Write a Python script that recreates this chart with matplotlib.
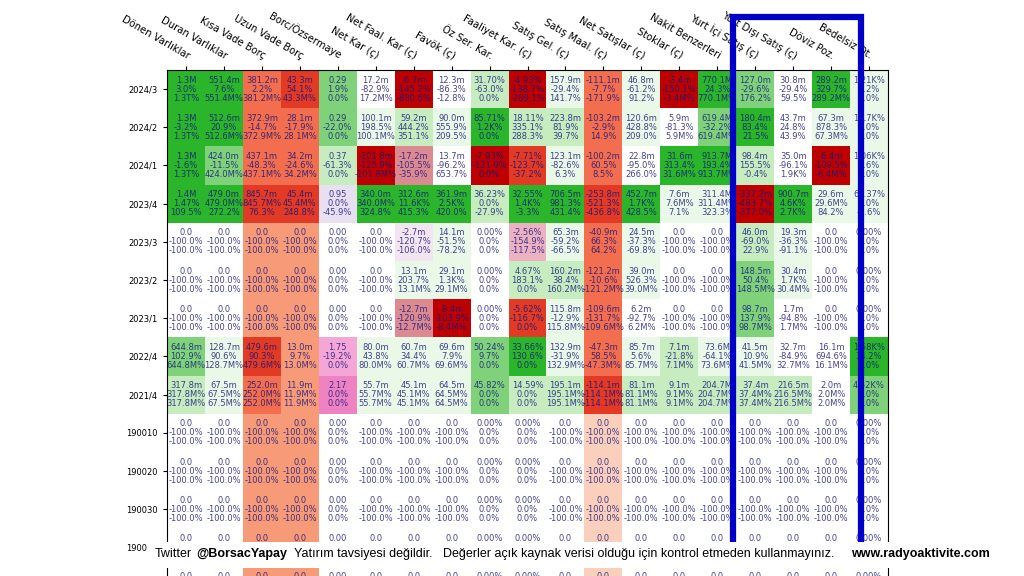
import numpy as np
import matplotlib.pyplot as plt
from matplotlib.colors import ListedColormap, BoundaryNorm
from matplotlib.patches import Rectangle

periods = ['2024/3', '2024/2', '2024/1', '2023/4', '2023/3', '2023/2', '2023/1',
           '2022/4', '2021/4', '190010', '190020', '190030', '190040', '190050']
metrics = ['Dönen Varlıklar', 'Duran Varlıklar', 'Kısa Vade Borç', 'Uzun Vade Borç',
           'Borc/Özsermaye', 'Net Kar (ç)', 'Net Faal. Kar (ç)', 'Favök (ç)', 'Öz Ser. Kar.',
           'Faaliyet Kar. (ç)', 'Satış Gel. (ç)', 'Satış Maal. (ç)', 'Net Satışlar (ç)',
           'Stoklar (ç)', 'Nakit Benzerleri', 'Yurt İçi Satış (ç)', 'Yurt Dışı Satış (ç)',
           'Döviz Poz.', 'Bedelsiz Ot.']

# value, change vs previous, change vs last year
zero_val = ['0.0', '0.0', '0.0', '0.0', '0.00', '0.0', '0.0', '0.0', '0.00%', '0.00%',
            '0.0', '0.0', '0.0', '0.0', '0.0', '0.0', '0.0', '0.0', '0.00%']
zero_chg = ['-100.0%', '-100.0%', '-100.0%', '-100.0%', '0.0%', '-100.0%', '-100.0%', '-100.0%',
            '0.0%', '0.0%', '-100.0%', '-100.0%', '-100.0%', '-100.0%', '-100.0%', '-100.0%',
            '-100.0%', '-100.0%', '0.0%']

values = [
    ['1.3M', '551.4m', '381.2m', '43.3m', '0.29', '17.2m', '-6.7m', '12.3m', '31.70%', '-4.93%',
     '157.9m', '-111.1m', '46.8m', '-3.4m', '770.1M', '127.0m', '30.8m', '289.2m', '1.21K%'],
    ['1.3M', '512.6m', '372.9m', '28.1m', '0.29', '100.1m', '59.2m', '90.0m', '85.71%', '18.11%',
     '223.8m', '-103.2m', '120.6m', '5.9m', '619.4M', '180.4m', '43.7m', '67.3m', '1.17K%'],
    ['1.3M', '424.0m', '437.1m', '34.2m', '0.37', '-101.8m', '-17.2m', '13.7m', '-7.93%', '-7.71%',
     '123.1m', '-100.2m', '22.8m', '31.6m', '913.7M', '98.4m', '35.0m', '-6.4m', '1.06K%'],
    ['1.4M', '479.0m', '845.7m', '45.4m', '0.95', '340.0m', '312.6m', '361.9m', '36.23%', '32.55%',
     '706.5m', '-253.8m', '452.7m', '7.6m', '311.4M', '-337.2m', '900.7m', '29.6m', '61.37%'],
    ['0.0', '0.0', '0.0', '0.0', '0.00', '0.0', '-2.7m', '14.1m', '0.00%', '-2.56%',
     '65.3m', '-40.9m', '24.5m', '0.0', '0.0', '46.0m', '19.3m', '0.0', '0.00%'],
    ['0.0', '0.0', '0.0', '0.0', '0.00', '0.0', '13.1m', '29.1m', '0.00%', '4.67%',
     '160.2m', '-121.2m', '39.0m', '0.0', '0.0', '148.5m', '30.4m', '0.0', '0.00%'],
    ['0.0', '0.0', '0.0', '0.0', '0.00', '0.0', '-12.7m', '-8.4m', '0.00%', '-5.62%',
     '115.8m', '-109.6m', '6.2m', '0.0', '0.0', '98.7m', '1.7m', '0.0', '0.00%'],
    ['644.8m', '128.7m', '479.6m', '13.0m', '1.75', '80.0m', '60.7m', '69.6m', '50.24%', '33.66%',
     '132.9m', '-47.3m', '85.7m', '7.1m', '73.6M', '41.5m', '32.7m', '16.1m', '1.58K%'],
    ['317.8m', '67.5m', '252.0m', '11.9m', '2.17', '55.7m', '45.1m', '64.5m', '45.82%', '14.59%',
     '195.1m', '-114.1m', '81.1m', '9.1m', '204.7M', '37.4m', '216.5m', '2.0m', '4.52K%'],
    zero_val, zero_val, zero_val, zero_val, zero_val,
]

change_q = [
    ['3.0%', '7.6%', '2.2%', '54.1%', '1.9%', '-82.9%', '-145.2%', '-86.3%', '-63.0%', '-138.7%',
     '-29.4%', '-7.7%', '-61.2%', '-150.1%', '24.3%', '-29.6%', '-29.4%', '329.7%', '3.2%'],
    ['-3.2%', '20.9%', '-14.7%', '-17.9%', '-22.0%', '198.5%', '444.2%', '555.9%', '1.2K%', '335.1%',
     '81.9%', '-2.9%', '428.8%', '-81.3%', '-32.2%', '83.4%', '24.8%', '878.3%', '0.0%'],
    ['-1.6%', '-11.5%', '-48.3%', '-24.6%', '-61.3%', '-125.9%', '-105.5%', '-96.2%', '-121.9%', '-123.7%',
     '-82.6%', '60.5%', '-95.0%', '313.4%', '193.4%', '155.5%', '-96.1%', '-109.5%', '5.6%'],
    ['1.47%', '479.0M%', '845.7M%', '45.4M%', '0.0%', '340.0M%', '11.6K%', '2.5K%', '0.0%', '1.4K%',
     '981.3%', '-521.3%', '1.7K%', '7.6M%', '311.4M%', '-483.7%', '4.6K%', '29.6M%', '0.0%'],
    ['-100.0%', '-100.0%', '-100.0%', '-100.0%', '0.0%', '-100.0%', '-120.7%', '-51.5%', '0.0%', '-154.9%',
     '-59.2%', '66.3%', '-37.3%', '-100.0%', '-100.0%', '-69.0%', '-36.3%', '-100.0%', '0.0%'],
    ['-100.0%', '-100.0%', '-100.0%', '-100.0%', '0.0%', '-100.0%', '203.7%', '1.3K%', '0.0%', '183.1%',
     '38.4%', '-10.6%', '526.3%', '-100.0%', '-100.0%', '50.4%', '1.7K%', '-100.0%', '0.0%'],
    ['-100.0%', '-100.0%', '-100.0%', '-100.0%', '0.0%', '-100.0%', '-120.9%', '-103.9%', '0.0%', '-116.7%',
     '-12.9%', '-131.7%', '-92.7%', '-100.0%', '-100.0%', '137.9%', '-94.8%', '-100.0%', '0.0%'],
    ['102.9%', '90.6%', '90.3%', '9.7%', '-19.2%', '43.8%', '34.4%', '7.9%', '9.7%', '130.6%',
     '-31.9%', '58.5%', '5.6%', '-21.8%', '-64.1%', '10.9%', '-84.9%', '694.6%', '34.2%'],
    ['317.8M%', '67.5M%', '252.0M%', '11.9M%', '0.0%', '55.7M%', '45.1M%', '64.5M%', '0.0%', '0.0%',
     '195.1M%', '-114.1M%', '81.1M%', '9.1M%', '204.7M%', '37.4M%', '216.5M%', '2.0M%', '0.0%'],
    zero_chg, zero_chg, zero_chg, zero_chg, zero_chg,
]

change_y = [
    ['1.3T%', '551.4M%', '381.2M%', '43.3M%', '0.0%', '17.2M%', '-880.6%', '-12.8%', '0.0%', '-289.1%',
     '141.7%', '-171.9%', '91.2%', '-3.4M%', '770.1M%', '176.2%', '59.5%', '289.2M%', '0.0%'],
    ['1.3T%', '512.6M%', '372.9M%', '28.1M%', '0.0%', '100.1M%', '351.1%', '209.5%', '0.0%', '288.3%',
     '39.7%', '14.9%', '209.0%', '5.9M%', '619.4M%', '21.5%', '43.9%', '67.3M%', '0.0%'],
    ['1.3T%', '424.0M%', '437.1M%', '34.2M%', '0.0%', '-101.8M%', '-35.9%', '653.7%', '0.0%', '-37.2%',
     '6.3%', '8.5%', '266.0%', '31.6M%', '913.7M%', '-0.4%', '1.9K%', '-6.4M%', '0.0%'],
    ['109.5%', '272.2%', '76.3%', '248.8%', '-45.9%', '324.8%', '415.3%', '420.0%', '-27.9%', '-3.3%',
     '431.4%', '-436.8%', '428.5%', '7.1%', '323.3%', '-377.0%', '2.7K%', '84.2%', '-3.6%'],
    ['-100.0%', '-100.0%', '-100.0%', '-100.0%', '0.0%', '-100.0%', '-106.0%', '-78.2%', '0.0%', '-117.5%',
     '-66.5%', '64.2%', '-69.8%', '-100.0%', '-100.0%', '22.9%', '-91.1%', '-100.0%', '0.0%'],
    ['-100.0%', '-100.0%', '-100.0%', '-100.0%', '0.0%', '-100.0%', '13.1M%', '29.1M%', '0.0%', '0.0%',
     '160.2M%', '-121.2M%', '39.0M%', '-100.0%', '-100.0%', '148.5M%', '30.4M%', '-100.0%', '0.0%'],
    ['-100.0%', '-100.0%', '-100.0%', '-100.0%', '0.0%', '-100.0%', '-12.7M%', '-8.4M%', '0.0%', '0.0%',
     '115.8M%', '-109.6M%', '6.2M%', '-100.0%', '-100.0%', '98.7M%', '1.7M%', '-100.0%', '0.0%'],
    ['644.8M%', '128.7M%', '479.6M%', '13.0M%', '0.0%', '80.0M%', '60.7M%', '69.6M%', '0.0%', '0.0%',
     '132.9M%', '-47.3M%', '85.7M%', '7.1M%', '73.6M%', '41.5M%', '32.7M%', '16.1M%', '0.0%'],
    ['317.8M%', '67.5M%', '252.0M%', '11.9M%', '0.0%', '55.7M%', '45.1M%', '64.5M%', '0.0%', '0.0%',
     '195.1M%', '-114.1M%', '81.1M%', '9.1M%', '204.7M%', '37.4M%', '216.5M%', '2.0M%', '0.0%'],
    zero_chg, zero_chg, zero_chg, zero_chg, zero_chg,
]

# colour class of every cell (0 white, 1-4 greens, 5-9 reds, 10-15 pinks)
zero_lvl = [0, 0, 6, 6, 0, 0, 0, 0, 0, 0, 0, 5, 0, 0, 0, 0, 0, 0, 0]
levels = [
    [4, 4, 7, 8, 3, 0, 9, 0, 2, 9, 1, 7, 1, 9, 4, 3, 0, 4, 1],
    [4, 4, 7, 7, 3, 1, 2, 1, 4, 2, 2, 7, 1, 0, 3, 4, 0, 1, 1],
    [4, 3, 7, 7, 2, 9, 13, 0, 9, 8, 1, 7, 0, 4, 4, 2, 0, 9, 1],
    [4, 4, 8, 8, 11, 4, 4, 4, 2, 4, 4, 8, 4, 1, 1, 9, 4, 1, 1],
    [0, 0, 6, 6, 0, 0, 10, 1, 0, 12, 1, 7, 1, 0, 0, 2, 1, 0, 0],
    [0, 0, 6, 6, 0, 0, 1, 1, 0, 2, 2, 7, 1, 0, 0, 3, 1, 0, 0],
    [0, 0, 6, 6, 0, 0, 13, 9, 0, 8, 1, 7, 0, 0, 0, 3, 0, 0, 0],
    [3, 1, 8, 6, 14, 1, 1, 1, 3, 4, 1, 7, 1, 2, 1, 1, 0, 0, 4],
    [2, 1, 7, 6, 15, 1, 1, 1, 3, 2, 2, 8, 2, 2, 2, 2, 2, 0, 3],
    zero_lvl, zero_lvl, zero_lvl, zero_lvl, zero_lvl,
]

palette = ['#ffffff', '#eaf8e8', '#c6ecc0', '#7fd27a', '#2ab52a',
           '#fad0bd', '#f79a78', '#f26e4e', '#e23a24', '#bf0000',
           '#f2e4f0', '#e8dff0', '#ecb2c2', '#dc8a92', '#f4a6d6', '#ee82c2']
cmap = ListedColormap(palette)
norm = BoundaryNorm(np.arange(len(palette) + 1) - 0.5, len(palette))

fig = plt.figure(figsize=(10.24, 5.76), dpi=100)
n_rows, n_cols = len(periods), len(metrics)
row_h = 38.2 / 576
ax = fig.add_axes([167 / 1024, 1 - 70 / 576 - n_rows * row_h, 721 / 1024, n_rows * row_h])

ax.pcolormesh(np.arange(n_cols + 1), np.arange(n_rows + 1), np.array(levels),
              cmap=cmap, norm=norm)
ax.set_xlim(0, n_cols)
ax.set_ylim(n_rows, 0)

for i in range(n_rows):
    for j in range(n_cols):
        txt = f'{values[i][j]}\n{change_q[i][j]}\n{change_y[i][j]}'
        ax.text(j + 0.5, i + 0.5, txt, ha='center', va='center', fontsize=6,
                linespacing=1.0, color='#14147a', alpha=0.8)

ax.xaxis.tick_top()
ax.set_xticks(np.arange(n_cols) + 0.5)
ax.set_xticklabels(metrics, rotation=-30, ha='right', va='bottom',
                   rotation_mode='anchor', fontsize=7.2)
ax.set_yticks(np.arange(n_rows) + 0.5)
ax.set_yticklabels(periods, fontsize=6)
ax.tick_params(length=3)

# blue highlight frame
fig.patches.append(Rectangle((733 / 1024, 1 - 560 / 576), 128 / 1024, 543 / 576,
                             transform=fig.transFigure, fill=False,
                             edgecolor='#0000c8', linewidth=4.5, zorder=5))

# disclaimer banner
fig.patches.append(Rectangle((147 / 1024, 1 - 568 / 576), 877 / 1024, 26 / 576,
                             transform=fig.transFigure, facecolor='white',
                             edgecolor='none', zorder=6))
y_b = 1 - 554 / 576
banner = [('Twitter', 155, 'normal'), ('@BorsacYapay', 196, 'bold'),
          ('Yatırım tavsiyesi değildir.', 294, 'normal'),
          ('Değerler açık kaynak verisi olduğu için kontrol etmeden kullanmayınız.', 443, 'normal'),
          ('www.radyoaktivite.com', 851, 'bold')]
for s, xp, w in banner:
    fig.text(xp / 1024, y_b, s, fontsize=9, fontweight=w, family='Liberation Sans',
             va='center', ha='left', zorder=7)

fig.savefig('out.png', dpi=100)
